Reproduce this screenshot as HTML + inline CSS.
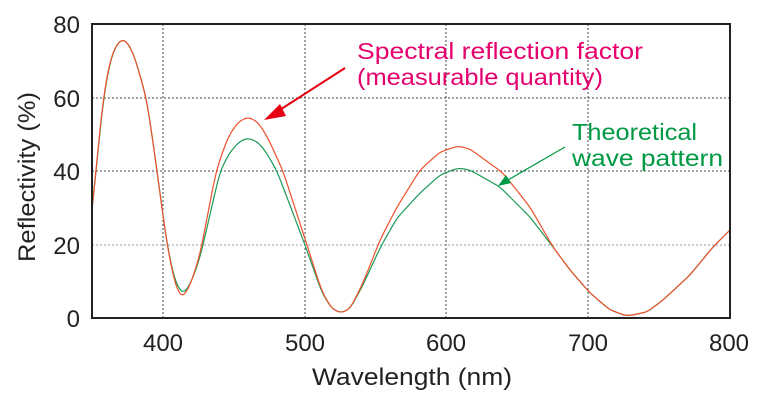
<!DOCTYPE html>
<html><head><meta charset="utf-8"><style>
body{margin:0;background:#fff}
svg text{font-family:"Liberation Sans",sans-serif}
</style></head><body>
<svg width="768" height="403" viewBox="0 0 768 403" xmlns="http://www.w3.org/2000/svg">
<g stroke="#444" stroke-width="1" stroke-dasharray="2,2">
<line x1="163" y1="24" x2="163" y2="318"/><line x1="305" y1="24" x2="305" y2="318"/>
<line x1="446" y1="24" x2="446" y2="318"/><line x1="588" y1="24" x2="588" y2="318"/>
<line x1="92" y1="98" x2="730" y2="98"/><line x1="92" y1="171" x2="730" y2="171"/>
<line x1="92" y1="245" x2="730" y2="245" stroke="#999"/>
</g>
<path id="g" fill="none" stroke="#1a9a55" stroke-width="1.2"/>
<path id="r" fill="none" stroke="#f0502a" stroke-width="1.2"/>
<rect x="92" y="24" width="638" height="294" fill="none" stroke="#222" stroke-width="2"/>
<g font-size="24" fill="#222" text-anchor="end">
<text x="80" y="33">80</text><text x="80" y="107">60</text><text x="80" y="180">40</text><text x="80" y="254">20</text><text x="80" y="327">0</text>
</g>
<g font-size="24" fill="#222" text-anchor="middle">
<text x="163" y="351">400</text><text x="305" y="351">500</text><text x="446" y="351">600</text><text x="588" y="351">700</text><text x="729" y="351">800</text>
<text x="412" y="385" textLength="200" lengthAdjust="spacingAndGlyphs">Wavelength (nm)</text>
<text transform="translate(35,177) rotate(-90)" textLength="170" lengthAdjust="spacingAndGlyphs">Reflectivity (%)</text>
</g>
<g font-size="23" fill="#e5006e"><text x="357" y="59" textLength="286" lengthAdjust="spacingAndGlyphs">Spectral reflection factor</text><text x="357" y="85" textLength="246" lengthAdjust="spacingAndGlyphs">(measurable quantity)</text></g>
<g font-size="23" fill="#009944"><text x="572" y="140" textLength="125" lengthAdjust="spacingAndGlyphs">Theoretical</text><text x="572" y="166" textLength="151" lengthAdjust="spacingAndGlyphs">wave pattern</text></g>
<line x1="345" y1="68" x2="275" y2="113" stroke="#e60012" stroke-width="2"/>
<polygon points="264,120 280,104 286,116" fill="#e60012"/>
<line x1="565" y1="147" x2="508" y2="180" stroke="#009944" stroke-width="1.2"/>
<polygon points="498,186 506,175 511,183" fill="#009944"/>
</svg>
<script>
function interp(p,x){for(let i=0;i<p.length-1;i++){if(x<=p[i+1][0]){const a=p[i],b=p[i+1],t=(x-a[0])/(b[0]-a[0]);return a[1]+(b[1]-a[1])*t;}}return p[p.length-1][1];}
function smooth(p){const x0=92,x1=730,s=3,ys=[];
for(let x=x0-12;x<=x1+12;x++){ys.push(interp(p,Math.max(x0,Math.min(x1,x))));}
// extrapolate ends linearly
for(let k=0;k<12;k++){ys[k]=ys[12]+(ys[12]-ys[13])*(12-k);ys[ys.length-1-k]=ys[ys.length-13]+(ys[ys.length-13]-ys[ys.length-14])*(12-k);}
let d="";for(let x=x0;x<=x1;x++){let sw=0,sy=0;for(let k=-9;k<=9;k++){const w=Math.exp(-k*k/(2*s*s));sw+=w;sy+=w*ys[x-x0+12+k];}
d+=(x==x0?"M":" L")+x+","+(sy/sw).toFixed(2);}return d;}
const tail=[[553,247],[570,270],[590,293],[610,310],[627,316],[647,312],[663,300],[690,275],[713,247],[730,230]];
const R=[[92,210],[97,160],[103,98],[110,60],[116,45],[123,38],[130,46],[135,58],[147,100],[157,171],[167,245],[175,285],[182,299],[190,286],[200,255],[216,171],[228,137],[238,122],[248,117],[258,122],[268,138],[283,171],[307,245],[322,292],[332,309],[341,313],[350,309],[363,283],[380,240],[397,207],[420,170],[440,152],[458,146],[470,149],[503,173],[530,207]].concat(tail);
const G=[[92,210],[97,162],[103,100],[110,61],[116,45],[123,38],[130,46],[135,58],[147,100],[157,171],[167,245],[175,282],[183,295],[191,283],[200,258],[220,171],[230,152],[240,141],[248,138],[258,142],[266,152],[277,171],[305,245],[322,293],[332,309],[341,313],[350,309],[363,285],[380,248],[397,218],[420,193],[440,175],[458,168],[470,170],[500,187],[530,217]].concat(tail);
document.getElementById("r").setAttribute("d",smooth(R));document.getElementById("g").setAttribute("d",smooth(G));
</script>
</body></html>
